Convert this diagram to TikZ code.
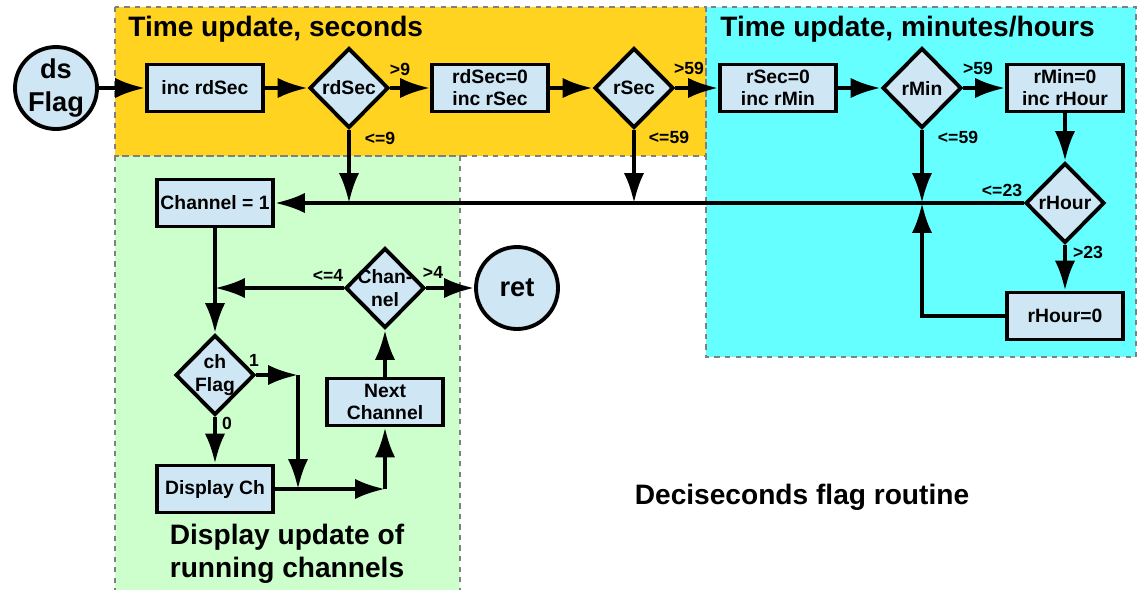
\documentclass[tikz,border=0pt]{standalone}
\usepackage{fontspec}
\setmainfont{Liberation Sans}
\usepackage{xcolor}
\usetikzlibrary{arrows.meta,shapes.geometric}
\definecolor{gelb}{HTML}{FFD320}
\definecolor{tuerkis}{HTML}{66FFFF}
\definecolor{hellgruen}{HTML}{CCFFCC}
\definecolor{hellblau}{HTML}{CFE7F5}
\tikzset{
  block/.style={draw,line width=2.2pt,fill=hellblau,minimum width=2.32cm,minimum height=0.94cm,
    inner sep=1pt,align=center,font=\bfseries\fontsize{11}{12.5}\selectfont},
  entscheidung/.style={diamond,draw,line width=2.2pt,fill=hellblau,minimum width=1.58cm,
    minimum height=1.6cm,inner sep=-6pt,align=center,font=\bfseries\fontsize{11}{13}\selectfont},
  kreis/.style={circle,draw,line width=2.2pt,fill=hellblau,minimum size=1.64cm,inner sep=0pt,
    align=center,font=\bfseries\fontsize{15.5}{19}\selectfont},
  bereich/.style={draw=gray,dashed,line width=0.6pt},
  pfeil/.style={line width=2.2pt,-{Latex[length=17pt,width=11.5pt]}},
  marke/.style={font=\bfseries\fontsize{10}{12}\selectfont,inner sep=0pt},
  titel/.style={font=\bfseries\fontsize{16}{19}\selectfont,inner sep=0pt,align=center},
}

\begin{document}
\begin{tikzpicture}[x=0.02cm,y=-0.02cm]
  \useasboundingbox (0,0) rectangle (1138,589);
  % Bereiche
  \fill[gelb] (115,7) rectangle (706,156);
  \fill[hellgruen] (115,156) rectangle (460,592);
  \fill[tuerkis] (706,7) rectangle (1136,357);
  \draw[bereich] (115,7) rectangle (706,156);
  \draw[bereich] (115,156) rectangle (460,592);
  \draw[bereich] (706,7) rectangle (1136,357);
  \node[titel,anchor=west] (tsek) at (128,29) {Time update, seconds};
  \node[titel,anchor=west] (tmin) at (720,29) {Time update, minutes/hours};
  \node[titel] (tanz) at (287,554) {Display update of\\running channels};
  \node[titel] (troutine) at (802,497) {Deciseconds flag routine};
  % Sekunden
  \node[kreis] (dsflag) at (56,88) {ds\\Flag};
  \node[block] (incrd) at (205,88) {inc rdSec};
  \node[entscheidung] (rdsec) at (349,88) {rdSec};
  \node[block] (rdnull) at (490,88) {rdSec=0\\inc rSec};
  \node[entscheidung] (rsec) at (634,88) {rSec};
  % Minuten und Stunden
  \node[block] (rsnull) at (778,88) {rSec=0\\inc rMin};
  \node[entscheidung] (rmin) at (922,88) {rMin};
  \node[block] (rmnull) at (1065,88) {rMin=0\\inc rHour};
  \node[entscheidung] (rhour) at (1065,203) {rHour};
  \node[block] (rhnull) at (1065,316) {rHour=0};
  % Kanaele
  \node[block] (kanal1) at (215,203) {Channel = 1};
  \node[entscheidung] (kanal) at (385,288) {Chan-\\nel};
  \node[kreis] (ret) at (517,288) {ret};
  \node[entscheidung] (chflag) at (215,375) {ch\\Flag};
  \node[block] (naechster) at (385,402) {Next\\Channel};
  \node[block] (anzeige) at (215,489) {Display Ch};
  % Knickpunkte
  \coordinate (k1) at (349,203);
  \coordinate (k2) at (634,203);
  \coordinate (k3) at (922,203);
  \coordinate (k4) at (215,288);
  \coordinate (k5) at (298,375);
  \coordinate (k6) at (298,489);
  \coordinate (k7) at (385,489);
  % Verbindungen oben
  \draw[pfeil] (dsflag) -- (incrd);
  \draw[pfeil] (incrd) -- (rdsec);
  \draw[pfeil] (rdsec) -- (rdnull);
  \draw[pfeil] (rdnull) -- (rsec);
  \draw[pfeil] (rsec) -- (rsnull);
  \draw[pfeil] (rsnull) -- (rmin);
  \draw[pfeil] (rmin) -- (rmnull);
  \draw[pfeil] (rmnull) -- (rhour);
  \draw[pfeil] (rhour) -- (rhnull);
  \draw[pfeil] (rdsec.south) -- (k1);
  \draw[pfeil] (rsec.south) -- (k2);
  \draw[pfeil] (rmin.south) -- (k3);
  \draw[pfeil] (rhnull.west) -| (k3);
  \draw[pfeil] (rhour.west) -- (kanal1.east);
  % Verbindungen unten
  \draw[pfeil] (kanal1) -- (chflag);
  \draw[pfeil] (kanal.west) -- (k4);
  \draw[pfeil] (kanal) -- (ret);
  \draw[pfeil] (chflag) -- (anzeige);
  \draw[pfeil] (chflag.east) -- (k5);
  \draw[pfeil] (k5) -- (k6);
  \draw[pfeil] (anzeige.east) -- (k7);
  \draw[pfeil] (k7) -- (naechster);
  \draw[pfeil] (naechster) -- (kanal);
  % Beschriftungen
  \node[marke] (m1) at (400,69) {>9};
  \node[marke] (m2) at (380,138) {<=9};
  \node[marke] (m3) at (689,68) {>59};
  \node[marke] (m4) at (669,137) {<=59};
  \node[marke] (m5) at (978,68) {>59};
  \node[marke] (m6) at (958,137) {<=59};
  \node[marke] (m7) at (1002,190) {<=23};
  \node[marke] (m8) at (1088,252) {>23};
  \node[marke] (m9) at (328,275) {<=4};
  \node[marke] (m10) at (433,272) {>4};
  \node[marke] (m11) at (254,360) {1};
  \node[marke] (m12) at (227,423) {0};
\end{tikzpicture}
\end{document}
